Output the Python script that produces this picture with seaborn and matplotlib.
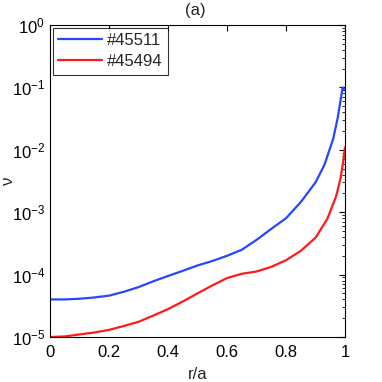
import numpy as np
import pandas as pd
import matplotlib
matplotlib.use("Agg")
import matplotlib.pyplot as plt
import seaborn as sns

r_blue = [0.0, 0.05, 0.1, 0.15, 0.2, 0.25, 0.3, 0.35, 0.4, 0.45, 0.5, 0.55, 0.6, 0.65, 0.7, 0.75, 0.8, 0.85, 0.9, 0.93, 0.96, 0.975, 0.992, 1.0]
nu_blue = [4.0e-5, 4.0e-5, 4.1e-5, 4.3e-5, 4.6e-5, 5.3e-5, 6.3e-5, 7.8e-5, 9.5e-5, 1.15e-4, 1.4e-4, 1.65e-4, 2.0e-4, 2.5e-4, 3.6e-4, 5.4e-4, 8.0e-4, 1.45e-3, 3.0e-3, 5.7e-3, 1.5e-2, 3.2e-2, 1.0e-1, 9.0e-2]
r_red = [0.0, 0.05, 0.1, 0.15, 0.2, 0.25, 0.3, 0.35, 0.4, 0.45, 0.5, 0.55, 0.6, 0.65, 0.7, 0.75, 0.8, 0.85, 0.9, 0.94, 0.97, 0.985, 0.995, 1.0]
nu_red = [1.0e-5, 1.02e-5, 1.1e-5, 1.18e-5, 1.3e-5, 1.5e-5, 1.75e-5, 2.2e-5, 2.8e-5, 3.7e-5, 5.0e-5, 6.7e-5, 8.8e-5, 1.03e-4, 1.12e-4, 1.33e-4, 1.7e-4, 2.4e-4, 3.9e-4, 7.8e-4, 1.8e-3, 3.5e-3, 7.0e-3, 1.1e-2]
labels = ["#45511", "#45494"]
xticks = [0, 0.2, 0.4, 0.6, 0.8, 1]
xticklabels = ["0", "0.2", "0.4", "0.6", "0.8", "1"]

df = pd.concat([
    pd.DataFrame({"r": r_blue, "nu": nu_blue, "shot": labels[0]}),
    pd.DataFrame({"r": r_red, "nu": nu_red, "shot": labels[1]}),
])

sns.set_style("white")
plt.rcParams["font.family"] = ["Liberation Sans", "DejaVu Sans"]
plt.rcParams["mathtext.fontset"] = "custom"
plt.rcParams["mathtext.rm"] = "Liberation Sans"
plt.rcParams["mathtext.it"] = "Liberation Sans:italic"

fig = plt.figure(figsize=(3.82, 3.82), dpi=100)
ax = fig.add_axes([50/382, 45/382, 295/382, 312/382])

sns.lineplot(data=df, x="r", y="nu", hue="shot", sort=False, estimator=None,
             palette={labels[0]: "#2447ff", labels[1]: "#ff1a1a"}, linewidth=1.6, ax=ax)
ax.set_yscale("log")
ax.set_xlim(0, 1)
ax.set_ylim(1e-5, 1)
ax.set_xticks(xticks)
ax.set_xticklabels(xticklabels)
for s in ax.spines.values():
    s.set_color("black")
    s.set_linewidth(0.8)
ax.tick_params(which="both", direction="in", top=True, right=True, labelsize=12, colors="black")
ax.tick_params(which="major", length=4)
ax.tick_params(which="minor", length=2)
ax.tick_params(axis="x", pad=6)
ax.set_xlabel("r/a", fontsize=12)
ax.set_ylabel("ν", fontsize=12)
ax.yaxis.set_label_coords(-0.115, 0.5)
ax.xaxis.set_label_coords(0.5, -0.095)

leg = ax.legend(loc="upper left", fontsize=12, frameon=True, fancybox=False,
                borderaxespad=0.15, handlelength=2.6, borderpad=0.35, labelspacing=0.35,
                handletextpad=0.3)
leg.get_frame().set_edgecolor("black")
leg.get_frame().set_linewidth(0.8)

fig.text(195/382, 1 - 11/382, "(a)", ha="center", va="center", fontsize=12)

fig.savefig("out.png", dpi=100)
